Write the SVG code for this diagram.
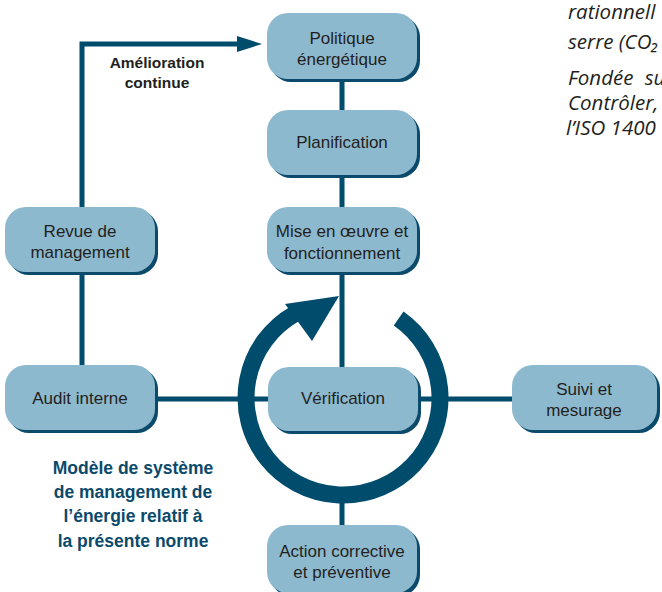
<svg xmlns="http://www.w3.org/2000/svg" width="662" height="592" viewBox="0 0 662 592">
<defs>
<style>
.sh{fill:#0b4a6b}
.nd{fill:#8db9cf}
.t{font-family:"Liberation Sans",Arial,sans-serif;font-size:17px;fill:#231f20;text-anchor:middle}
.b{font-family:"Liberation Sans",Arial,sans-serif;font-size:15.5px;font-weight:bold;fill:#231f20;text-anchor:middle}
.m{font-family:"Liberation Sans",Arial,sans-serif;font-size:17.5px;font-weight:bold;fill:#0b4a6b;text-anchor:middle}
.it{font-family:"Open Sans","Noto Sans",sans-serif;font-size:20.5px;font-style:italic;fill:#231f20}
.ln{stroke:#004c6c;stroke-width:5;fill:none}
</style>
</defs>
<rect width="662" height="592" fill="#ffffff"/>
<g id="side-text">
<text class="it" x="568" y="19">rationnell</text>
<text class="it" x="568" y="49">serre (CO₂</text>
<text class="it" x="568" y="85" word-spacing="6">Fondée su</text>
<text class="it" x="568" y="110">Contrôler,</text>
<text class="it" x="566" y="135">l’ISO 1400</text>
</g>
<g id="connectors">
<path class="ln" d="M82,365 L82,44 L240,44"/>
<polygon points="262,44 237,36 237,52" fill="#004c6c"/>
<line class="ln" x1="342" y1="80" x2="342" y2="367"/>
<line class="ln" x1="342" y1="495" x2="342" y2="525"/>
<line class="ln" x1="155" y1="399" x2="512" y2="399"/>
</g>
<g id="cycle">
<path d="M398.64,318.54 A97,97 0 1 1 294.5,314.0" fill="none" stroke="#004c6c" stroke-width="17"/>
<polygon points="339,296 285,304 312,341" fill="#004c6c"/>
</g>
<g id="politique">
<rect class="sh" x="270" y="16" width="150" height="66" rx="21"/>
<rect class="nd" x="267" y="13" width="150" height="66" rx="21"/>
<text class="t" x="342" y="44">Politique</text>
<text class="t" x="342" y="65">énergétique</text>
</g>
<g id="planification">
<rect class="sh" x="270" y="113" width="150" height="65" rx="21"/>
<rect class="nd" x="267" y="110" width="150" height="65" rx="21"/>
<text class="t" x="342" y="148">Planification</text>
</g>
<g id="mise">
<rect class="sh" x="270" y="210" width="150" height="65" rx="21"/>
<rect class="nd" x="267" y="207" width="150" height="65" rx="21"/>
<text class="t" x="342" y="237">Mise en œuvre et</text>
<text class="t" x="342" y="259">fonctionnement</text>
</g>
<g id="revue">
<rect class="sh" x="8" y="210" width="150" height="65" rx="21"/>
<rect class="nd" x="5" y="207" width="150" height="65" rx="21"/>
<text class="t" x="80" y="237">Revue de</text>
<text class="t" x="80" y="258">management</text>
</g>
<g id="audit">
<rect class="sh" x="8" y="368" width="150" height="65" rx="21"/>
<rect class="nd" x="5" y="365" width="150" height="65" rx="21"/>
<text class="t" x="80" y="404">Audit interne</text>
</g>
<g id="verification">
<rect class="sh" x="271" y="370" width="150" height="64" rx="21"/>
<rect class="nd" x="268" y="367" width="150" height="64" rx="21"/>
<text class="t" x="343" y="404">Vérification</text>
</g>
<g id="suivi">
<rect class="sh" x="515" y="368" width="145" height="65" rx="21"/>
<rect class="nd" x="512" y="365" width="145" height="65" rx="21"/>
<text class="t" x="584" y="395">Suivi et</text>
<text class="t" x="584" y="416">mesurage</text>
</g>
<g id="action">
<rect class="sh" x="270" y="528" width="150" height="68" rx="21"/>
<rect class="nd" x="267" y="525" width="150" height="68" rx="21"/>
<text class="t" x="342" y="557">Action corrective</text>
<text class="t" x="342" y="578">et préventive</text>
</g>
<g id="labels">
<text class="b" x="157" y="68">Amélioration</text>
<text class="b" x="157" y="88">continue</text>
<text class="m" x="133" y="474">Modèle de système</text>
<text class="m" x="133" y="498">de management de</text>
<text class="m" x="133" y="522">l’énergie relatif à</text>
<text class="m" x="133" y="547">la présente norme</text>
</g>
</svg>
